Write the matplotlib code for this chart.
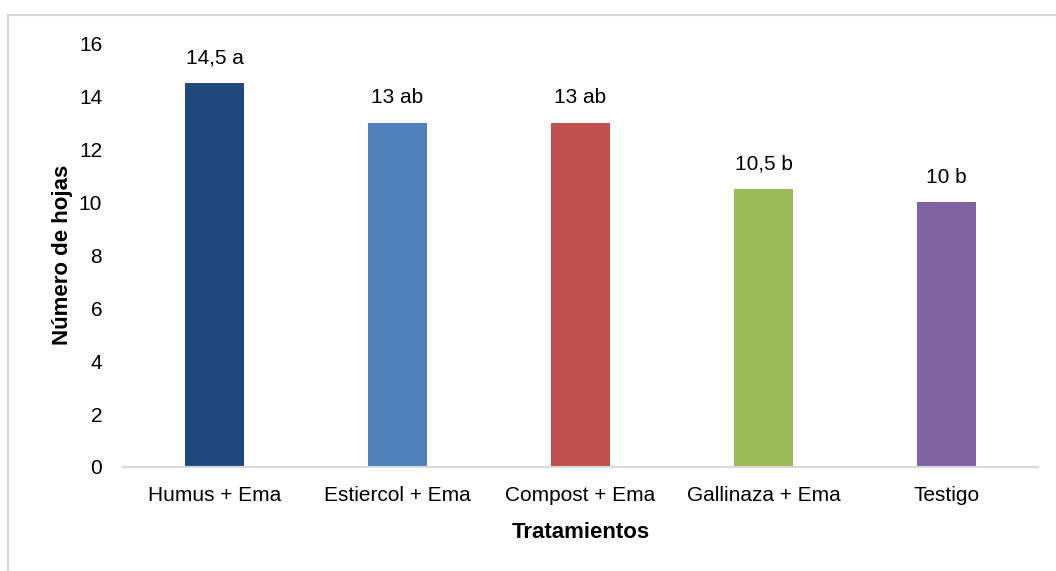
import matplotlib
matplotlib.use('Agg')
import matplotlib.pyplot as plt
from matplotlib.patches import Rectangle

plt.rcParams['font.family'] = ['Liberation Sans', 'DejaVu Sans']

tratamientos = ['Humus + Ema', 'Estiercol + Ema', 'Compost + Ema', 'Gallinaza + Ema', 'Testigo']
hojas = [14.5, 13, 13, 10.5, 10]
letras = ['a', 'ab', 'ab', 'b', 'b']
colores = ['#1F497D', '#4F81BD', '#C0504D', '#9BBB59', '#8064A2']

fig = plt.figure(figsize=(10.56, 5.71), dpi=100)
# chart frame (light gray, runs off the right and bottom edges)
fig.patches.append(Rectangle((8 / 1056, -0.1), 1.2, 1 - 15 / 571 + 0.1,
                             transform=fig.transFigure, fill=False,
                             edgecolor='#D9D9D9', linewidth=1.5))

ax = fig.add_axes([123 / 1056, 1 - 467 / 571, (1038 - 123) / 1056, (467 - 43) / 571])
x = range(len(tratamientos))
bars = ax.bar(x, hojas, width=0.32, color=colores)

for xi, v, l in zip(x, hojas, letras):
    txt = ('%g' % v).replace('.', ',') + ' ' + l
    ax.annotate(txt, (xi, v), xytext=(0, 11), textcoords='offset points',
                ha='center', va='bottom', fontsize=15)

ax.set_xlim(-0.5, len(tratamientos) - 0.5)
ax.set_ylim(0, 16)
ax.set_yticks(range(0, 17, 2))
ax.set_xticks(list(x))
ax.set_xticklabels(tratamientos)
ax.tick_params(axis='both', length=0, labelsize=15)
ax.tick_params(axis='x', pad=14)
ax.tick_params(axis='y', pad=15)
for s in ['top', 'right', 'left']:
    ax.spines[s].set_visible(False)
ax.spines['bottom'].set_color('#D9D9D9')
ax.spines['bottom'].set_linewidth(1.5)

ax.set_xlabel('Tratamientos', fontsize=16, fontweight='bold', labelpad=12)
ax.set_ylabel('Número de hojas', fontsize=16, fontweight='bold', labelpad=4)

fig.savefig('out.png', dpi=100)
